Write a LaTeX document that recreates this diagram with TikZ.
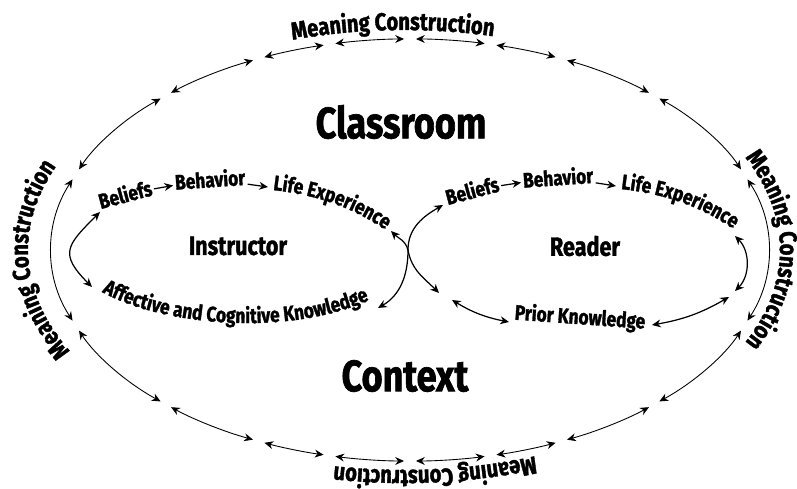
\documentclass[tikz,border=0pt]{standalone}
\usepackage{fontspec}
\newfontfamily\handfont{Fira Sans}[FakeStretch=0.82,BoldFeatures={FakeBold=1.5}]
\usepackage{tikz}
\usetikzlibrary{arrows.meta,calc,decorations.text}
\tikzset{>={Stealth[length=5pt,width=4.5pt]}}
\tikzset{%
    ring/.style={<->,line width=0.5pt,shorten <=3.4pt,shorten >=3.4pt},
    flow/.style={->,line width=0.7pt},
    dflow/.style={<->,line width=0.7pt},
    word/.style={font=\handfont\bfseries\fontsize{12}{12}\selectfont,inner sep=1pt},
    who/.style={font=\handfont\bfseries\fontsize{15}{15}\selectfont},
    place/.style={font=\handfont\bfseries\fontsize{25}{25}\selectfont},
    ringtext/.style={decorate,decoration={text along path,text align=center,
        text={|\handfont\bfseries\fontsize{14}{14}\selectfont|#1}}},
    curvetext/.style={decorate,decoration={text along path,text align=left,
        text={|\handfont\bfseries\fontsize{12}{12}\selectfont|#1}}}
}

\begin{document}
\begin{tikzpicture}[x=0.02cm,y=0.02cm]
    \useasboundingbox (0,0) rectangle (797,489);
    \coordinate (C) at (410,239);
    \coordinate (T) at (404,239);
    \foreach \a/\b in {21/47,47/65,65/77,77/90,90/103,103/115,115/133,133/159,159/201,
        201/227,227/245,245/257,257/270,270/283,283/295,295/313,313/339,339/381}
        \draw[ring] ($(C)+(\a:358 and 211)$) arc[start angle=\a,end angle=\b,x radius=358,y radius=211];
    \path[ringtext=Meaning Construction] ($(T)+(132:376 and 220)$) arc[start angle=132,end angle=52,x radius=376,y radius=220];
    \path[ringtext=Meaning Construction] ($(T)+(50:376 and 220)$) arc[start angle=50,end angle=-50,x radius=376,y radius=220];
    \path[ringtext=Meaning Construction] ($(T)+(-34:376 and 220)$) arc[start angle=-34,end angle=-134,x radius=376,y radius=220];
    \path[ringtext=Meaning Construction] ($(T)+(232:376 and 220)$) arc[start angle=232,end angle=132,x radius=376,y radius=220];

    \node[place] (classroom) at (401,367) {Classroom};
    \node[place] (context) at (405,113) {Context};
    \node[who] (instructor) at (238,243) {Instructor};
    \node[who] (reader) at (585,243) {Reader};

    \node[word,rotate=15] (lbel) at (125,295) {Beliefs};
    \node[word,rotate=4] (lbeh) at (210,310) {Behavior};
    \path[curvetext=Life Experience] (273,299) .. controls (315,294) and (355,283) .. (398,250);
    \path[curvetext=Affective and Cognitive Knowledge] (102,197) .. controls (165,162) and (300,150) .. (384,196);
    \coordinate (lexp) at (268,302);
    \coordinate (lexpend) at (391,258);
    \coordinate (lbelend) at (100,277);
    \coordinate (affstart) at (92,202);
    \coordinate (affend) at (378,181);

    \node[word,rotate=15] (rbel) at (472,299) {Beliefs};
    \node[word,rotate=4] (rbeh) at (558,312) {Behavior};
    \path[curvetext=Life Experience] (621,300) .. controls (663,295) and (703,284) .. (746,251);
    \node[word,rotate=-4] (prior) at (580,171) {Prior Knowledge};
    \coordinate (rexp) at (616,303);
    \coordinate (rexpend) at (735,253);
    \coordinate (rbelstart) at (443,284);
    \coordinate (priorgap) at (439,196);
    \coordinate (priorleft) at (452,189);
    \coordinate (priorin) at (509,167);
    \coordinate (priorout) at (652,164);
    \coordinate (rightgap) at (735,198);
    \coordinate (rightlow) at (729,192);

    \coordinate (X) at (408,239);

    \draw[flow] (lbel) -- (lbeh);
    \draw[flow] (lbeh) -- (lexp);
    \draw[flow] (rbel) -- (rbeh);
    \draw[flow] (rbeh) -- (rexp);
    \draw[dflow] (lbelend) to[out=225,in=135,looseness=1.6] (affstart);
    \draw[dflow] (affend) to[out=30,in=-90] (X) to[out=90,in=210] (rbelstart);
    \draw[flow] (X) to[out=105,in=-45] (lexpend);
    \draw[flow] (X) to[out=-80,in=135] (priorgap);
    \draw[dflow] (priorleft) to[bend right=10] (priorin);
    \draw[dflow] (rightlow) to[bend left=10] (priorout);
    \draw[dflow] (rexpend) to[out=-45,in=45] (rightgap);
\end{tikzpicture}
\end{document}
